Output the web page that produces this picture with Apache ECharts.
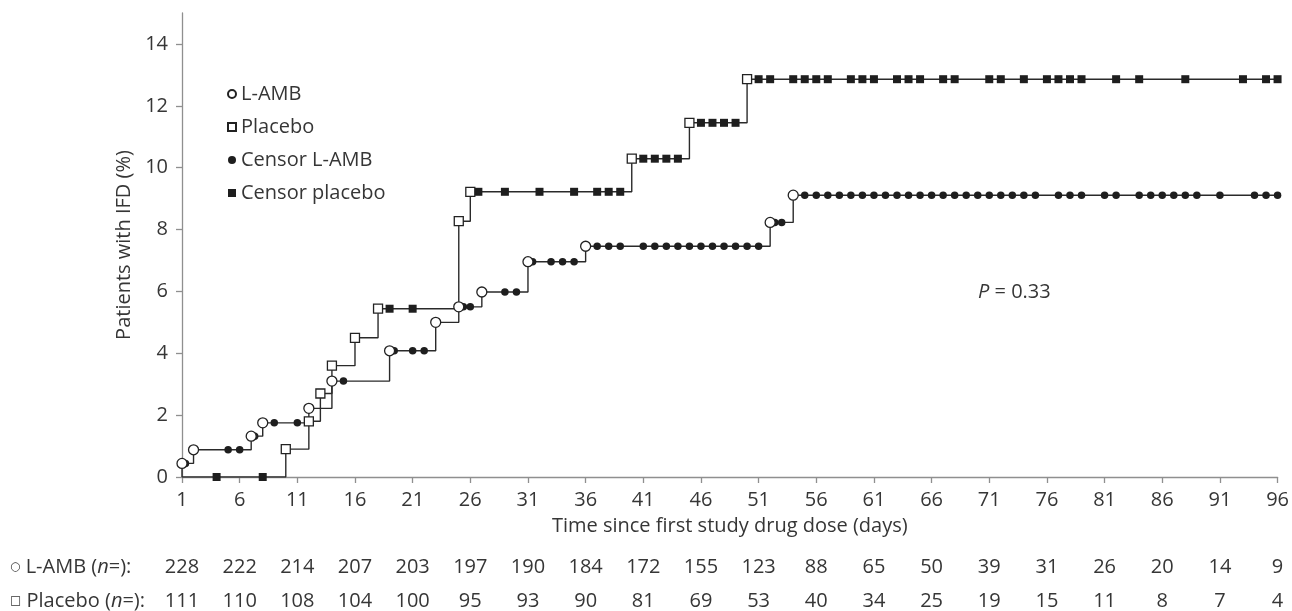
<!DOCTYPE html>
<html><head><meta charset="utf-8">
<script src="https://cdn.jsdelivr.net/npm/echarts@6/dist/echarts.min.js"></script>
<style>html,body{margin:0;padding:0;background:#fff}#c{width:1292px;height:611px}</style>
</head><body><div id="c"></div>
<script>
// ---- data ----
const xTicks = [1,6,11,16,21,26,31,36,41,46,51,56,61,66,71,76,81,86,91,96];
const yTicks = [0,2,4,6,8,10,12,14];
const lambAtRisk = [228,222,214,207,203,197,190,184,172,155,123,88,65,50,39,31,26,20,14,9];
const plcAtRisk  = [111,110,108,104,100,95,93,90,81,69,53,40,34,25,19,15,11,8,7,4];

// L-AMB events (open circles): day and cumulative % with IFD
const lambEventDays = [1, 2, 7, 8, 12, 14, 19, 23, 25, 27, 31, 36, 52, 54];
const lambEventPct  = [0.44, 0.88, 1.32, 1.75, 2.22, 3.10, 4.08, 5.00, 5.50, 5.98, 6.96, 7.46, 8.23, 9.11];
// L-AMB censored (filled dots): day
const lambCensorDays = [1.3, 5, 6, 7.3, 9, 11, 15, 19.4, 21, 22, 25.4, 26, 29, 30, 31.4, 33, 34, 35,
  37, 38, 39, 41, 42, 43, 44, 45, 46, 47, 48, 49, 50, 51, 52.4, 53,
  55, 56, 57, 58, 59, 60, 61, 62, 63, 64, 65, 66, 67, 68, 69, 70, 71, 72, 73, 74, 75,
  77, 78, 79, 81, 82, 84, 85, 86, 87, 88, 89, 91, 94, 95, 96];

// Placebo events (open squares)
const plcEventDays = [10, 12, 13, 14, 16, 18, 25, 26, 40, 45, 50];
const plcEventPct  = [0.90, 1.80, 2.70, 3.60, 4.50, 5.44, 8.27, 9.22, 10.29, 11.45, 12.86];
// Placebo censored (filled squares)
const plcCensorDays = [4, 8, 19, 21, 26.7, 29, 32, 35, 37, 38, 39, 41, 42, 43, 44, 46, 47, 48, 49,
  51, 52, 54, 55, 56, 57, 59, 60, 61, 63, 64, 65, 67, 68, 71, 72, 74, 76, 77, 78, 79, 82, 84, 88, 93, 95, 96];

const xMin = 1, xMax = 96;

// ---- helpers ----
function kmAt(days, pcts, t) {
  let v = 0;
  for (let i = 0; i < days.length; i++) if (days[i] <= t) v = pcts[i];
  return v;
}
function curve(days, pcts) {
  const d = [[xMin, 0]];
  days.forEach((x, i) => d.push([x, pcts[i]]));
  d.push([xMax, pcts[pcts.length - 1]]);
  return d;
}
const FONT = 'Open Sans';
const FS = 20;
const TXT = '#363636';
const AX = '#8f8f8f';
const LINE = '#2a2a2a';

const chart = echarts.init(document.getElementById('c'), null, {renderer: 'canvas'});
const riskAxis = (counts, name, offset) => ({
  type: 'value', gridIndex: 0, position: 'bottom', offset: offset,
  min: xMin, max: xMax,
  axisLine: {show: false}, axisTick: {show: false}, splitLine: {show: false},
  axisLabel: {
    customValues: xTicks, margin: 0, verticalAlign: 'middle',
    fontSize: FS, color: TXT, fontFamily: FONT,
    formatter: v => String(counts[xTicks.indexOf(v)])
  },
  name: name, nameLocation: 'start', nameGap: 172,
  nameTextStyle: {
    align: 'left', verticalAlign: 'middle', fontSize: FS, color: TXT, fontFamily: FONT,
    rich: {
      s: {fontSize: 12, color: TXT, fontFamily: 'DejaVu Sans'},
      i: {fontStyle: 'italic', fontSize: FS, color: TXT, fontFamily: FONT},
      t: {fontSize: FS, color: TXT, fontFamily: FONT}
    }
  }
});

const option = {
  backgroundColor: '#fff',
  animation: false,
  textStyle: {fontFamily: FONT, color: TXT},
  grid: {left: 182, top: 13, width: 1097, height: 464},
  legend: {
    data: ['L-AMB', 'Placebo', 'Censor L-AMB', 'Censor placebo'],
    orient: 'vertical', left: 222, top: 78,
    itemWidth: 8, itemHeight: 8, itemGap: 11, itemTextGap: 5,
    textStyle: {fontSize: FS, color: TXT, fontFamily: FONT, lineHeight: 22}
  },
  xAxis: [
    {
      type: 'value', min: xMin, max: xMax,
      name: 'Time since first study drug dose (days)', nameLocation: 'middle', nameGap: 39,
      nameTextStyle: {fontSize: FS, color: TXT, fontFamily: FONT},
      axisLine: {show: true, lineStyle: {color: AX, width: 1.3}},
      axisTick: {show: true, length: 6, customValues: xTicks, lineStyle: {color: AX, width: 1.3}},
      axisLabel: {customValues: xTicks, margin: 13, fontSize: FS, color: TXT, fontFamily: FONT},
      splitLine: {show: false}
    },
    riskAxis(lambAtRisk, '{s|○}{t| L-AMB (}{i|n}{t|=):}', 90),
    riskAxis(plcAtRisk, '{s|□}{t| Placebo (}{i|n}{t|=):}', 124)
  ],
  yAxis: {
    type: 'value', min: 0, max: 15, interval: 2,
    name: 'Patients with IFD (%)', nameLocation: 'middle', nameGap: 43,
    nameTextStyle: {fontSize: FS, color: TXT, fontFamily: FONT},
    axisLine: {show: true, lineStyle: {color: AX, width: 1.3}},
    axisTick: {show: true, length: 6, customValues: yTicks, lineStyle: {color: AX, width: 1.3}},
    axisLabel: {customValues: yTicks, margin: 14, fontSize: FS, color: TXT, fontFamily: FONT},
    splitLine: {show: false}
  },
  graphic: [{
    type: 'text', left: 978, top: 282,
    style: {
      text: '{i|P} = 0.33',
      fill: TXT, font: FS + 'px "Open Sans"',
      rich: {i: {fontStyle: 'italic', fontSize: FS, fontFamily: FONT, fill: TXT}}
    }
  }],
  series: [
    {type: 'line', name: 'curveL', step: 'end', showSymbol: false, symbol: 'none', silent: true, z: 2,
     lineStyle: {color: LINE, width: 1.4}, data: curve(lambEventDays, lambEventPct)},
    {type: 'line', name: 'curveP', step: 'end', showSymbol: false, symbol: 'none', silent: true, z: 2,
     lineStyle: {color: LINE, width: 1.4}, data: curve(plcEventDays, plcEventPct)},
    {type: 'scatter', name: 'Censor L-AMB', symbol: 'circle', symbolSize: 7.5, z: 4,
     itemStyle: {color: '#1e1e1e', opacity: 1},
     data: lambCensorDays.map(d => [d, kmAt(lambEventDays, lambEventPct, d)])},
    {type: 'scatter', name: 'Censor placebo', symbol: 'rect', symbolSize: 8, z: 4,
     itemStyle: {color: '#1e1e1e', opacity: 1},
     data: plcCensorDays.map(d => [d, kmAt(plcEventDays, plcEventPct, d)])},
    {type: 'scatter', name: 'L-AMB', symbol: 'circle', symbolSize: 10, z: 5,
     itemStyle: {color: '#fff', borderColor: '#222', borderWidth: 1.3, opacity: 1},
     data: lambEventDays.map((d, i) => [d, lambEventPct[i]])},
    {type: 'scatter', name: 'Placebo', symbol: 'rect', symbolSize: 9, z: 5,
     itemStyle: {color: '#fff', borderColor: '#222', borderWidth: 1.3, opacity: 1},
     data: plcEventDays.map((d, i) => [d, plcEventPct[i]])}
  ]
};
chart.setOption(option);
</script>
</body></html>
